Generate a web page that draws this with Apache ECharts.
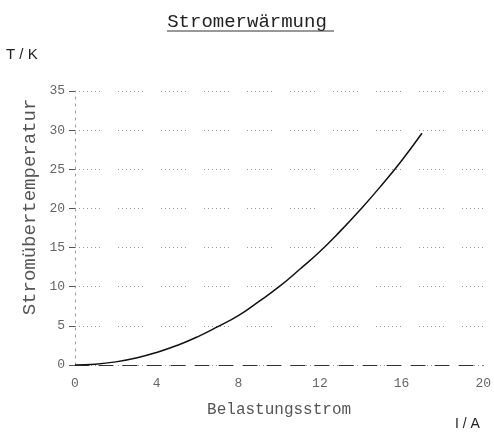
<!DOCTYPE html>
<html><head><meta charset="utf-8">
<script src="https://cdn.jsdelivr.net/npm/echarts@6/dist/echarts.min.js"></script>
<style>html,body{margin:0;padding:0;background:#fff;}#c{width:494px;height:435px;}</style>
</head><body><div id="c"></div>
<script>
const currentA = [0,1,2,3,4,5,6,7,8,9,10,11,12,13,14,15,16,17];
const tempK = [0,0.1,0.4,0.9,1.6,2.5,3.6,4.9,6.3,8.1,10.0,12.2,14.5,17.1,19.9,22.9,26.1,29.6];
const xTicks = [0,4,8,12,16,20];
const yTicks = [0,5,10,15,20,25,30,35];
const titleText = 'Stromerwärmung';
const xName = 'Belastungsstrom';
const yName = 'Stromübertemperatur';
const xUnit = 'I / A';
const yUnit = 'T / K';

const chart = echarts.init(document.getElementById('c'), null, {renderer:'canvas'});
const mono = '"Liberation Mono", "DejaVu Sans Mono", monospace';
const gridDash = [1,3,1,3,1,3,1,3,1,3,1,3,1,18];
chart.setOption({
  animation:false,
  backgroundColor:'#fff',
  title:{text:titleText,left:'center',top:7,textStyle:{fontFamily:mono,fontSize:19,fontWeight:'normal',color:'#222'}},
  graphic:[
    {type:'line',shape:{x1:167,y1:31,x2:334,y2:31},style:{stroke:'#333',lineWidth:1}},
    {type:'text',left:6,top:47,style:{text:yUnit,font:'15px "Liberation Sans", Arial, sans-serif',fill:'#222'}},
    {type:'text',left:455,top:417,style:{text:xUnit,font:'14px "Liberation Sans", Arial, sans-serif',fill:'#222'}},
    {type:'text',x:30,y:207,rotation:Math.PI/2,
      style:{text:yName,font:'19px "Liberation Mono", monospace',fill:'#555',align:'center',verticalAlign:'middle'}}
  ],
  grid:{left:75,right:9,top:91,bottom:70,containLabel:false},
  xAxis:{type:'value',min:0,max:20,interval:4,
    name:xName,nameLocation:'middle',nameGap:37,
    nameTextStyle:{fontFamily:mono,fontSize:16,color:'#555'},
    axisLine:{show:true,lineStyle:{color:'#333',width:1,type:[14,10]}},
    axisTick:{show:false},
    axisLabel:{fontFamily:mono,fontSize:13,color:'#666',margin:12,formatter:v=>xTicks.includes(v)?String(v):''},
    splitLine:{show:false}
  },
  yAxis:{type:'value',min:0,max:35,interval:5,
    axisLine:{show:true,lineStyle:{color:'#999',width:1,type:[2,5]}},
    axisTick:{show:true,inside:false,length:6,lineStyle:{color:'#555'}},
    axisLabel:{fontFamily:mono,fontSize:13,color:'#666',margin:10,formatter:v=>yTicks.includes(v)?String(v):''},
    splitLine:{show:true,lineStyle:{color:'#999',width:1,type:gridDash}}
  },
  series:[{type:'line',data:currentA.map((x,i)=>[x,tempK[i]]),smooth:true,symbol:'none',
    lineStyle:{color:'#111',width:1.5}}]
});
</script></body></html>
